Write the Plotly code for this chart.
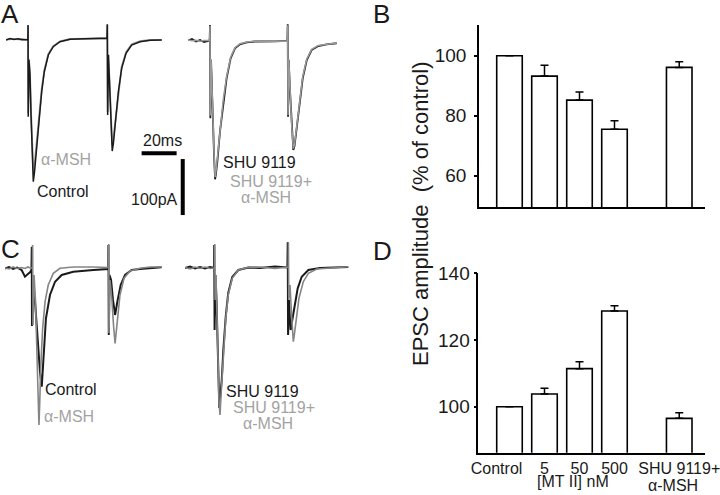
import plotly.graph_objects as go

# ---------------- data ----------------
# Bar charts (EPSC amplitude, % of control)
bar_pos = [0, 1, 2, 3, 4.85]
B_values = [100, 93.2, 85.2, 75.5, 96.1]
B_errors = [0, 3.6, 2.7, 2.8, 1.9]
D_values = [100, 103.8, 111.4, 128.7, 96.5]
D_errors = [0, 1.7, 2.1, 1.6, 1.7]
D_tick_labels = ["Control", "5", "50", "500", "SHU 9119+"]
B_ticks = [60, 80, 100]
D_ticks = [100, 120, 140]

# Traces (time in ms, current in pA)
A_left_t = [0, 2.3, 4.6, 6.9, 9.1, 11.4, 12.5, 12.6, 12.7, 13.1, 13.7, 14.3, 15.0, 15.6, 16.3, 17.5, 19.0,
            20.4, 21.9, 24.2, 27.0, 30.9, 36.6, 42.3, 48.0, 53.7, 57.7, 57.9, 58.1, 58.5, 59.1, 60.0, 60.7,
            61.4, 62.3, 64.2, 66.1, 68.6, 71.8, 76.6, 82.3, 89.0]
A_left_control = [-1.3, 1.4, -0.4, 0.9, -0.9, 0.2, -0.4, 25.5, -138.2, -37, -63.8, -135.2, -206.6, -254.3,
                  -237, -194.6, -135.2, -93.6, -57.9, -28, -13.2, -4.3, 0, 0.9, 1.4, 1.8, 1.8, 26.8, -135.2,
                  -28, -72.7, -153, -199.5, -185.2, -158.9, -93.6, -51.8, -25, -10.2, -4.3, -1.8, -1.3]
A_left_msh = [-0.5, 0.5, 0.9, 0, 0.5, -0.5, 0, 24, -132, -35, -60, -128, -192, -236, -224, -186, -130, -89,
              -55, -26, -12, -3.5, 0.5, 0.5, 1, 1.4, 1.4, 26, -130, -27, -70, -146, -188, -176, -152, -90,
              -49, -23, -9, -3.5, -1.3, -0.9]

A_right_t = [0, 2.1, 4.4, 6.7, 9.0, 11.3, 12.2, 12.4, 12.6, 13.0, 13.5, 14.1, 14.7, 15.3, 15.8, 16.6, 18.1,
             20.0, 21.9, 24.2, 26.7, 29.5, 33.4, 38.1, 42.9, 49.5, 56.6, 56.8, 57.0, 57.4, 58.1, 59.0, 60.0,
             60.7, 61.5, 63.4, 65.4, 67.7, 70.5, 74.3, 79.1, 84.8]
A_right_shu = [-2.1, 0.5, -3.9, -1.3, -4.8, -2.1, -2.1, 25.5, -141.1, -37, -72.7, -144.1, -206.6, -250,
               -240.5, -218.6, -165, -111.4, -69.6, -33.9, -16.1, -8.9, -5.4, -3.9, -4.3, -3.6, -3.0, 26.8,
               -138.2, -37, -90.5, -153, -197.7, -190.5, -170.9, -117.3, -69.6, -37, -19.1, -12, -8.9, -7.1]
A_right_shu_msh = [-1.3, -2.7, -1.8, -3.4, -2.1, -3.0, -2.1, 24, -136, -35, -70, -140, -203, -246, -236,
                   -213, -160, -107, -66, -32, -15, -8, -5, -3.6, -3.9, -3.2, -3.0, 25, -135, -35, -88, -150,
                   -195, -188, -167, -113, -66, -35, -18, -11, -8.5, -6.5]

C_left_ctrl_t = [0, 2.3, 4.6, 6.9, 9.5, 11.4, 13.1, 14.3, 15.1, 15.3, 15.4, 16.0, 17.1, 18.6, 20.0, 21.0,
                 21.4, 21.9, 23.4, 25.7, 28.6, 32.4, 39.0, 50.5, 58.1, 59.0, 59.1, 59.3, 59.7, 60.6, 61.7,
                 62.9, 64.2, 66.1, 68.6, 72.4, 77.1, 82.9, 89.5]
C_left_ctrl = [-0.9, 1.8, -1.8, 0.9, -3.6, -15.5, -10.7, -7.7, -3.6, 38, -103.6, -21.4, -57.1, -128.6,
               -185.7, -212, -191, -149.5, -89.8, -48.2, -24.5, -12.5, -6.6, -3.6, -1.8, -1.8, 41.1, -119.6,
               -12.5, -21.4, -57.1, -83.9, -60.2, -30.4, -12.5, -3.6, -1.8, 0, 1.3]
C_left_msh_t = [0, 2.3, 4.6, 6.9, 9.5, 11.4, 13.1, 14.3, 15.7, 15.8, 16.0, 16.6, 17.4, 18.3, 19.0, 19.4,
                19.9, 20.4, 21.5, 22.9, 24.7, 27.6, 31.4, 39.0, 50.5, 58.1, 59.1, 59.3, 59.4, 60.0, 61.1,
                62.0, 62.9, 63.4, 64.2, 65.7, 68.0, 71.4, 77.1, 82.9, 89.5]
C_left_msh = [0, -1.8, 1.8, -0.9, 0.9, -0.9, 1.8, 0, 0, 41.1, -101.8, -12.5, -57.1, -164.3, -235.7, -280.4,
              -235.7, -179.1, -107.7, -60.2, -30.4, -9.5, -0.5, 1.8, 1.8, 0.9, 0.9, 42.9, -116.1, -21.4,
              -57.1, -101.8, -134.5, -119.6, -89.8, -48.2, -18.4, -5.4, -0.5, 1.8, 1.8]

C_right_shu_t = [0, 2.9, 5.7, 8.6, 11.4, 14.3, 16.6, 16.7, 16.9, 17.4, 18.0, 18.6, 19.1, 19.6, 20.2, 21.0,
                 21.9, 23.3, 24.7, 27.0, 30.5, 36.2, 42.9, 51.4, 58.5, 58.7, 58.9, 59.4, 60.0, 60.4, 61.1,
                 62.3, 64.4, 66.7, 70.5, 77.1, 85.7, 93.3]
C_right_shu = [0, 2.7, -0.9, 1.8, -0.9, 1.8, 0, 41.1, -110.7, -12.5, -57.1, -146.4, -217.9, -250, -226.8,
               -200, -146.4, -85.7, -44.6, -16.1, -3.6, 0.9, 0, 2.7, 0.9, 45.9, -119.6, -57.1, -92.9,
               -110.7, -96.4, -72, -36.3, -15.5, -3.6, 0, 0.9, 1.8]
C_right_msh_t = [0, 2.9, 5.7, 8.6, 11.4, 14.3, 16.9, 17.0, 17.2, 17.7, 18.3, 18.9, 19.4, 20.0, 20.6, 21.0,
                 21.9, 23.3, 24.7, 27.0, 30.5, 36.2, 42.9, 51.4, 59.0, 59.1, 59.3, 60.0, 60.9, 61.9, 62.6,
                 63.3, 65.1, 67.6, 70.5, 75.3, 83.8, 93.3]
C_right_msh = [0.9, -1.8, 1.8, -0.9, 1.8, -0.9, 0, 42.9, -57.1, -12.5, -75, -164.3, -235.7, -262.5, -226.8,
               -208.9, -149.5, -89.8, -48.2, -18.4, -3.6, 1.3, 1.8, -0.9, 1.8, 44.6, -57.1, -30.4, -83.9,
               -131.6, -116.1, -95.9, -54.1, -24.5, -9.5, -1.8, 0.5, 2.3]

scale_ms = 20
scale_pA = 100

# ---------------- styling ----------------
FONT = "Liberation Sans, Arial, sans-serif"
BLACK = "#1a1a1a"
GRAY_A = "#9a9a9a"
GRAY_C = "#858585"
GRAY_TXT = "#a3a3a3"
W, H = 720, 495


def P(xpx, ypx):
    return xpx / W, 1 - ypx / H


fig = go.Figure()

# Panel A traces (black on top)
fig.add_trace(go.Scatter(x=A_left_t, y=A_left_msh, mode="lines", line=dict(color=GRAY_A, width=1.8),
                         xaxis="x3", yaxis="y3"))
fig.add_trace(go.Scatter(x=A_left_t, y=A_left_control, mode="lines", line=dict(color=BLACK, width=1.5),
                         xaxis="x3", yaxis="y3"))
fig.add_trace(go.Scatter(x=A_right_t, y=A_right_shu, mode="lines", line=dict(color=BLACK, width=1.8),
                         xaxis="x4", yaxis="y3"))
fig.add_trace(go.Scatter(x=A_right_t, y=A_right_shu_msh, mode="lines", line=dict(color=GRAY_A, width=1.5),
                         xaxis="x4", yaxis="y3"))

# Panel C traces (gray on top)
fig.add_trace(go.Scatter(x=C_left_ctrl_t, y=C_left_ctrl, mode="lines", line=dict(color=BLACK, width=2),
                         xaxis="x5", yaxis="y4"))
fig.add_trace(go.Scatter(x=C_left_msh_t, y=C_left_msh, mode="lines", line=dict(color=GRAY_C, width=1.6),
                         xaxis="x5", yaxis="y4"))
fig.add_trace(go.Scatter(x=C_right_shu_t, y=C_right_shu, mode="lines", line=dict(color=BLACK, width=2),
                         xaxis="x6", yaxis="y4"))
fig.add_trace(go.Scatter(x=C_right_msh_t, y=C_right_msh, mode="lines", line=dict(color=GRAY_C, width=1.6),
                         xaxis="x6", yaxis="y4"))

# Bars
bar_style = dict(color="white", line=dict(color="black", width=1.6))
fig.add_trace(go.Bar(x=bar_pos, y=B_values, width=0.73, marker=bar_style,
                     error_y=dict(type="data", symmetric=False, array=B_errors,
                                  arrayminus=[0] * len(B_errors), color="black", thickness=1.5, width=4),
                     xaxis="x", yaxis="y"))
fig.add_trace(go.Bar(x=bar_pos, y=D_values, width=0.73, marker=bar_style,
                     error_y=dict(type="data", symmetric=False, array=D_errors,
                                  arrayminus=[0] * len(D_errors), color="black", thickness=1.5, width=4),
                     xaxis="x2", yaxis="y2"))

# scale bars (anchored in panel A coordinates)
sb_t0, sb_i = 77.5, -203.6
sv_t, sv_i0 = 101.0, -213.8
shapes = [
    dict(type="line", xref="x3", yref="y3", x0=sb_t0, x1=sb_t0 + scale_ms, y0=sb_i, y1=sb_i,
         line=dict(color="black", width=4)),
    dict(type="line", xref="x3", yref="y3", x0=sv_t, x1=sv_t, y0=sv_i0, y1=sv_i0 - scale_pA,
         line=dict(color="black", width=4)),
]

ann = []


def text(s, xpx, ypx, color=BLACK, size=16, xanchor="left", yanchor="middle", angle=0):
    x, y = P(xpx, ypx)
    ann.append(dict(text=s, x=x, y=y, xref="paper", yref="paper", xanchor=xanchor, yanchor=yanchor,
                    showarrow=False, textangle=angle, font=dict(family=FONT, size=size, color=color)))


# panel letters
text("A", -1, 14, size=26)
text("B", 371, 14, size=26)
text("C", -1, 249, size=26)
text("D", 371, 251, size=26)

# panel A labels
text("α-MSH", 39, 159, color=GRAY_TXT)
text("Control", 35, 191)
text(f"{scale_ms}ms", 162.7, 140, xanchor="center")
text(f"{scale_pA}pA", 180, 200, xanchor="right")
text("SHU 9119", 221, 162)
text("SHU 9119+", 228, 182, color=GRAY_TXT)
text("α-MSH", 265.5, 197.5, color=GRAY_TXT, xanchor="center")

# panel C labels
text("Control", 43, 389)
text("α-MSH", 42, 416, color=GRAY_TXT)
text("SHU 9119", 224, 391)
text("SHU 9119+", 231, 407, color=GRAY_TXT)
text("α-MSH", 268, 423, color=GRAY_TXT, xanchor="center")

# panel D extra labels
text("α-MSH", 673, 485, xanchor="center")
text("[MT II] nM", 573, 481, xanchor="center")

# shared y title
text("EPSC amplitude  (% of control)", 420, 214, size=22, xanchor="center", angle=-90)

ax_common = dict(showgrid=False, zeroline=False, showline=True, linecolor="black", linewidth=1.5,
                 automargin=False,
                 tickcolor="black", tickwidth=1.5, tickfont=dict(family=FONT, size=19, color=BLACK))
hidden = dict(visible=False, showgrid=False, zeroline=False, automargin=False)

fig.update_layout(
    width=W, height=H, margin=dict(l=0, r=0, t=0, b=0, pad=0, autoexpand=False),
    paper_bgcolor="white", plot_bgcolor="white", showlegend=False,
    font=dict(family=FONT, color=BLACK),
    shapes=shapes, annotations=ann,
    xaxis=dict(ax_common, domain=[479 / W, 705 / W], range=[-0.871, 5.586], anchor="y",
               showticklabels=False, ticks=""),
    yaxis=dict(ax_common, domain=[1 - 207 / H, 1 - 25 / H], range=[49.57, 110.23], anchor="x",
               tickvals=B_ticks, ticks="outside", ticklen=3, ticklabelstandoff=4),
    xaxis2=dict(ax_common, domain=[478.3 / W, 705 / W], range=[-0.891, 5.586], anchor="y2",
                tickvals=[p - (0.37 if i == 0 else 0) for i, p in enumerate(bar_pos)],
                ticktext=D_tick_labels, ticks="", ticklabeloverflow="allow",
                tickfont=dict(family=FONT, size=16, color=BLACK)),
    yaxis2=dict(ax_common, domain=[1 - 452.7 / H, 1 - 273.3 / H], range=[86.2, 140], anchor="x2",
                tickvals=D_ticks, ticks="outside", ticklen=3),
    xaxis3=dict(hidden, domain=[6 / W, 192 / W], range=[0, 106.29], anchor="y3"),
    xaxis4=dict(hidden, domain=[188.3 / W, 350 / W], range=[0, 92.4], anchor="y3"),
    yaxis3=dict(hidden, domain=[1 - 230 / H, 1 - 10 / H], range=[-340.5, 52.3], anchor="x3"),
    xaxis5=dict(hidden, domain=[5 / W, 180 / W], range=[0, 100], anchor="y4"),
    xaxis6=dict(hidden, domain=[185 / W, 355 / W], range=[0, 97.14], anchor="y4"),
    yaxis4=dict(hidden, domain=[1 - 440 / H, 1 - 235 / H], range=[-307.1, 58.9], anchor="x5"),
)

fig.write_html("out.html", config={"displayModeBar": False},
               post_script="document.body.style.margin='0';document.body.style.overflow='hidden';")
